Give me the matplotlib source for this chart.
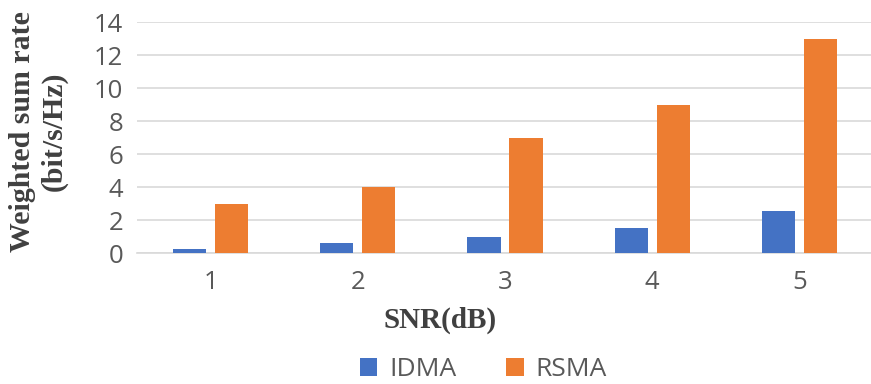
import numpy as np
import matplotlib
matplotlib.use("Agg")
import matplotlib.pyplot as plt

# weighted sum rate vs SNR
snr = [1, 2, 3, 4, 5]
idma = [0.25, 0.65, 1.0, 1.55, 2.55]
rsma = [3, 4, 7, 9, 13]

blue = '#4472C4'
orange = '#ED7D31'
grid = '#D9D9D9'
textgray = '#595959'

fig = plt.figure(figsize=(8.71, 3.84), dpi=100)
ax = fig.add_axes([137/871, 1 - 253.3/384, 736/871, 231/384])

x = np.array(snr)
w = 0.225
ax.bar(x - 0.143, idma, w, color=blue, label='IDMA', zorder=3)
ax.bar(x + 0.143, rsma, w, color=orange, label='RSMA', zorder=3)

ax.set_xlim(0.5, 5.5)
ax.set_ylim(0, 14)
ax.set_yticks(np.arange(0, 15, 2))
ax.set_xticks(x)
ax.yaxis.grid(True, color=grid, linewidth=1.2, zorder=0)
for s in ['top', 'right', 'left']:
    ax.spines[s].set_visible(False)
ax.spines['bottom'].set_color(grid)
ax.spines['bottom'].set_linewidth(1.2)
ax.tick_params(axis='both', length=0, labelcolor=textgray, labelsize=18.5)
ax.tick_params(axis='y', pad=10)
ax.tick_params(axis='x', pad=12)
for lab in ax.get_xticklabels() + ax.get_yticklabels():
    lab.set_fontfamily('Open Sans')

ax.set_xlabel('SNR(dB)', fontfamily='Liberation Serif', fontweight='bold',
              fontsize=21, color='#404040')
ax.xaxis.set_label_coords(0.412, -0.289)
ax.xaxis.label.set_va('center')

ax.set_ylabel('Weighted sum rate\n(bit/s/Hz)', fontfamily='Liberation Serif',
              fontweight='bold', fontsize=21.5, color='#404040', linespacing=1.2)
ax.yaxis.set_label_coords(-0.134, 0.529)
ax.yaxis.label.set_va('center')

leg = fig.legend(loc='center', bbox_to_anchor=(0.555, 0.037), ncol=2,
                 frameon=False, handlelength=0.65, handleheight=0.65,
                 handletextpad=0.45, columnspacing=1.9,
                 prop={'family': 'Open Sans', 'size': 19})
for t in leg.get_texts():
    t.set_color(textgray)

fig.savefig('out.png', dpi=100)
